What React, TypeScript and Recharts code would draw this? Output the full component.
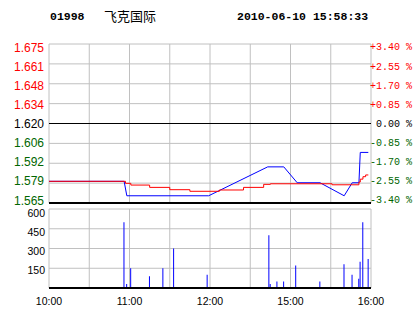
import {
  LineChart,
  Line,
  ComposedChart,
  Bar,
  XAxis,
  YAxis,
  CartesianGrid,
  ReferenceLine,
} from 'recharts';

// 分时数据：横轴为交易分钟序号（10:00-12:30, 14:30-16:00 共 240 分钟）
const priceMinutes = [0, 56, 58, 119, 163, 175, 185, 202, 220, 226, 231, 232, 238];
const priceValues = [1.58, 1.58, 1.57, 1.57, 1.59, 1.59, 1.579, 1.579, 1.57, 1.579, 1.579, 1.6, 1.6];

// 均价线
const avgMinutes = [0, 57, 61, 75, 90, 105, 127, 145, 160, 165, 211, 231, 232, 234, 236, 238];
const avgValues = [1.58, 1.5786, 1.5774, 1.5758, 1.5742, 1.5731, 1.574, 1.5758, 1.5779, 1.5783, 1.5776, 1.5795, 1.5815, 1.5832, 1.5844, 1.5844];

// 成交量
const volMinutes = [56, 58, 61, 75, 85, 93, 118, 164, 165, 170, 175, 184, 202, 220, 226, 231, 232, 234, 238];
const volValues = [500, 30, 150, 90, 150, 300, 100, 400, 30, 50, 50, 170, 50, 180, 100, 70, 200, 500, 220];

const prevClose = 1.62;
const priceTicks = [1.565, 1.57875, 1.5925, 1.60625, 1.62, 1.63375, 1.6475, 1.66125, 1.675];
const priceLabels = ['1.565', '1.579', '1.592', '1.606', '1.620', '1.634', '1.648', '1.661', '1.675'];
// 涨跌幅与价格刻度一一对应
const pctLabels = ['-3.40 %', '-2.55 %', '-1.70 %', '-0.85 %', '0.00 %', '+0.85 %', '+1.70 %', '+2.55 %', '+3.40 %'];
const volTicks = [0, 150, 300, 450, 600];
const volLabels = ['', '150', '300', '450', '600'];
const timeTicks = [0, 30, 60, 90, 120, 150, 180, 210, 240];
const timeLabels = ['10:00', '', '11:00', '', '12:00', '', '15:00', '', '16:00'];

const stockCode = '01998';
const stockName = '飞克国际';
const stamp = '2010-06-10 15:58:33';

const RED = '#FF0000';
const GREEN = '#006600';
const BLUE = '#0000FF';
const GRID = '#C0C0C0';

const priceData = priceMinutes.map((t, i) => ({ t, price: priceValues[i] }));
const avgData = avgMinutes.map((t, i) => ({ t, avg: avgValues[i] }));
const volData = volMinutes.map((t, i) => ({ t, vol: volValues[i] }));

const signColor = (diff: number) => (diff > 1e-9 ? RED : diff < -1e-9 ? GREEN : '#000');

// 左侧价格 + 右侧涨跌幅，标签略向中间压缩
const PriceTick = ({ y, payload }: any) => {
  const i = priceTicks.indexOf(payload.value);
  const shift = 3.4 - (6.1 * (1.675 - payload.value)) / 0.11;
  const color = signColor(payload.value - prevClose);
  return (
    <g>
      <text x={44} y={y + shift} dy="0.35em" textAnchor="end" fontSize={12}
        fontFamily="'Liberation Sans', Arial, sans-serif" fill={color}>
        {priceLabels[i]}
      </text>
      <text x={412} y={y + shift - 0.5} dy="0.35em" textAnchor="end" fontSize={10}
        fontFamily="'Liberation Mono', monospace" fill={color}>
        {pctLabels[i]}
      </text>
    </g>
  );
};

const VolTick = ({ y, payload }: any) => {
  const i = volTicks.indexOf(payload.value);
  const shift = 1.5 + (2.5 * payload.value) / 600;
  return (
    <text x={45} y={y + shift} dy="0.35em" textAnchor="end" fontSize={10.5}
      fontFamily="'Liberation Sans', Arial, sans-serif" fill="#000">
      {volLabels[i]}
    </text>
  );
};

const TimeTick = ({ x, y, payload }: any) => {
  const i = timeTicks.indexOf(payload.value);
  return (
    <text x={x} y={y + 5} dy="0.35em" textAnchor="middle" fontSize={10.5}
      fontFamily="'Liberation Sans', Arial, sans-serif" fill="#000">
      {timeLabels[i]}
    </text>
  );
};

export default function App() {
  return (
    <div style={{ position: 'absolute', left: 0, top: 0, width: 414, height: 314, background: '#fff', overflow: 'hidden' }}>
      <div style={{ position: 'absolute', left: 50, top: 9, fontFamily: "'Liberation Mono', monospace", fontWeight: 'bold', fontSize: 11.5, lineHeight: '16px' }}>
        {stockCode}
      </div>
      <div style={{ position: 'absolute', left: 104, top: 8, fontFamily: "'Noto Sans CJK SC', sans-serif", fontSize: 13, lineHeight: '16px' }}>
        {stockName}
      </div>
      <div style={{ position: 'absolute', left: 237, top: 9, fontFamily: "'Liberation Mono', monospace", fontWeight: 'bold', fontSize: 11.5, lineHeight: '16px' }}>
        {stamp}
      </div>

      {/* 分时价格 */}
      <div style={{ position: 'absolute', left: 0, top: 0 }}>
        <LineChart width={414} height={207} margin={{ top: 44, right: 43, bottom: 4, left: 0 }}>
          <CartesianGrid stroke={GRID} />
          <XAxis dataKey="t" type="number" domain={[0, 240]} ticks={timeTicks} hide />
          <YAxis type="number" domain={[1.565, 1.675]} ticks={priceTicks} width={49}
            axisLine={false} tickLine={false} tick={<PriceTick />} interval={0} />
          <ReferenceLine y={prevClose} stroke="#000" />
          <ReferenceLine y={1.565} stroke="#000" strokeWidth={2} />
          <Line data={priceData} dataKey="price" type="linear" stroke={BLUE} strokeWidth={1}
            dot={false} isAnimationActive={false} />
          <Line data={avgData} dataKey="avg" type="stepAfter" stroke={RED} strokeWidth={1}
            dot={false} isAnimationActive={false} />
        </LineChart>
      </div>

      {/* 成交量 */}
      <div style={{ position: 'absolute', left: 0, top: 0 }}>
        <ComposedChart width={414} height={314} data={volData} margin={{ top: 209, right: 43, bottom: 0, left: 0 }}>
          <CartesianGrid stroke={GRID} />
          <XAxis dataKey="t" type="number" domain={[0, 240]} ticks={timeTicks} height={26} interval={0}
            axisLine={false} tickLine={false} tick={<TimeTick />} />
          <YAxis type="number" domain={[0, 600]} ticks={volTicks} width={49} interval={0}
            axisLine={false} tickLine={false} tick={<VolTick />} />
          <ReferenceLine y={0} stroke="#000" strokeWidth={2} />
          <Bar dataKey="vol" fill={BLUE} barSize={1} isAnimationActive={false} />
        </ComposedChart>
      </div>
    </div>
  );
}
